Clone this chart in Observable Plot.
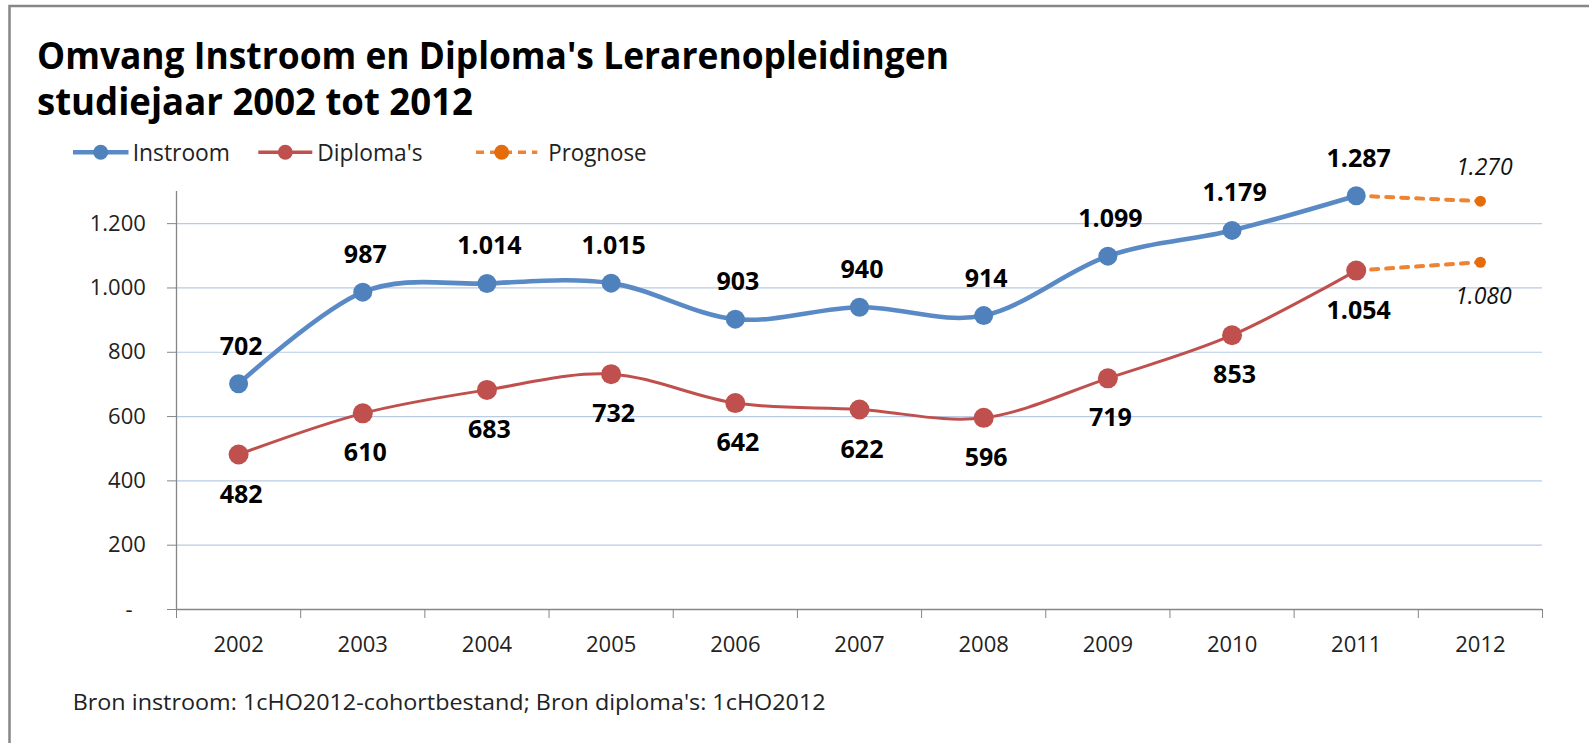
<!DOCTYPE html>
<html>
<head>
<meta charset="utf-8">
<script src="https://cdn.jsdelivr.net/npm/d3@7"></script>
<script src="https://cdn.jsdelivr.net/npm/@observablehq/plot@0.6"></script>
<style>
  html, body { margin: 0; padding: 0; background: #fff; }
  #chart { position: relative; width: 1589px; height: 743px; overflow: hidden; }
</style>
</head>
<body>
<div id="chart"></div>
<script>
// ---- data ----
const years = [2002, 2003, 2004, 2005, 2006, 2007, 2008, 2009, 2010, 2011];
const instroom = [702, 987, 1014, 1015, 903, 940, 914, 1099, 1179, 1287];
const diplomas = [482, 610, 683, 732, 642, 622, 596, 719, 853, 1054];
const prognoseYears = [2011, 2012];
const prognoseInstroom = [1287, 1270];
const prognoseDiplomas = [1054, 1080];
const xTickLabels = [2002, 2003, 2004, 2005, 2006, 2007, 2008, 2009, 2010, 2011, 2012];
const yTickValues = [200, 400, 600, 800, 1000, 1200];
const titleLines = ["Omvang Instroom en Diploma's Lerarenopleidingen", "studiejaar 2002 tot 2012"];
const legendLabels = ["Instroom", "Diploma's", "Prognose"];
const captionText = "Bron instroom: 1cHO2012-cohortbestand; Bron diploma's: 1cHO2012";

// ---- styling ----
const BLUE = "#4F81BD", BLUE_LINE = "#5A8AC6", RED = "#C0504D";
const ORANGE_LINE = "#EE8433", ORANGE = "#E46C0A";
const GRAY = "#868686", GRID = "#B7CCE4", TEXT = "#222";

const nl = v => d3.format(",")(v).replace(/,/g, ".");

const inData = years.map((year, i) => ({year, value: instroom[i]}));
const dipData = years.map((year, i) => ({year, value: diplomas[i]}));
const progIn = prognoseYears.map((year, i) => ({year, value: prognoseInstroom[i]}));
const progDip = prognoseYears.map((year, i) => ({year, value: prognoseDiplomas[i]}));
const bandEdges = xTickLabels.map(y => y - 0.5).concat([xTickLabels[xTickLabels.length - 1] + 0.5]);

const svg = Plot.plot({
  width: 1589,
  height: 743,
  marginLeft: 176,
  marginRight: 47,
  marginTop: 191,
  marginBottom: 134,
  x: {type: "linear", domain: [bandEdges[0], bandEdges[bandEdges.length - 1]]},
  y: {type: "linear", domain: [0, 1300]},
  style: {fontFamily: "'Open Sans', sans-serif", background: "#fff", overflow: "visible"},
  marks: [
    Plot.ruleY(yTickValues, {y: d => d, stroke: GRID, strokeWidth: 1.2}),
    Plot.ruleX([bandEdges[0]], {x: d => d, stroke: GRAY, strokeWidth: 1.3}),
    Plot.ruleY([0], {y: d => d, stroke: GRAY, strokeWidth: 1.3}),
    Plot.axisY({ticks: yTickValues, anchor: "left", tickSize: 9, tickPadding: 21.7, fontSize: 22,
      stroke: GRAY, fill: TEXT, tickFormat: nl, label: null}),
    Plot.axisY({ticks: [0], anchor: "left", tickSize: 9, tickPadding: 35, fontSize: 22,
      stroke: GRAY, fill: TEXT, tickFormat: () => "-", label: null}),
    Plot.axisX({ticks: bandEdges, anchor: "bottom", tickSize: 9, stroke: GRAY, tickFormat: () => "", label: null}),
    Plot.axisX({ticks: xTickLabels, anchor: "bottom", tickSize: 0, tickPadding: 27, fontSize: 22,
      fill: TEXT, tickFormat: d => String(d), label: null}),
    // prognose
    Plot.line(progIn, {x: "year", y: "value", stroke: ORANGE_LINE, strokeWidth: 4, strokeDasharray: "7,8", curve: "cardinal"}),
    Plot.line(progDip, {x: "year", y: "value", stroke: ORANGE_LINE, strokeWidth: 4, strokeDasharray: "7,8", curve: "cardinal"}),
    Plot.dot(progIn.slice(1), {x: "year", y: "value", r: 5.5, fill: ORANGE}),
    Plot.dot(progDip.slice(1), {x: "year", y: "value", r: 5.5, fill: ORANGE}),
    // main series
    Plot.line(dipData, {x: "year", y: "value", stroke: RED, strokeWidth: 3, curve: "cardinal"}),
    Plot.line(inData, {x: "year", y: "value", stroke: BLUE_LINE, strokeWidth: 4.6, curve: "cardinal"}),
    Plot.dot(dipData, {x: "year", y: "value", r: 10, fill: RED}),
    Plot.dot(inData, {x: "year", y: "value", r: 9.5, fill: BLUE}),
    // labels
    Plot.text(inData, {x: "year", y: "value", text: d => nl(d.value), dy: -29, dx: 2.5, lineAnchor: "bottom",
      fontSize: 25, fontWeight: "bold", fill: "#000"}),
    Plot.text(dipData, {x: "year", y: "value", text: d => nl(d.value), dy: 48, dx: 2.5, lineAnchor: "bottom",
      fontSize: 25, fontWeight: "bold", fill: "#000"}),
    Plot.text(progIn.slice(1), {x: "year", y: "value", text: d => nl(d.value), dy: -25.7, dx: 4, lineAnchor: "bottom",
      fontSize: 23, fontStyle: "italic", fill: "#111"}),
    Plot.text(progDip.slice(1), {x: "year", y: "value", text: d => nl(d.value), dy: 42, dx: 3, lineAnchor: "bottom",
      fontSize: 23, fontStyle: "italic", fill: "#111"})
  ]
});

document.getElementById("chart").append(svg);

// ---- overlay: frame, title, legend, caption ----
const g = d3.select(svg).append("g").attr("class", "overlay").attr("text-anchor", "start");

g.append("path").attr("d", "M9.5,743 V6 H1589").attr("fill", "none")
  .attr("stroke", "#878787").attr("stroke-width", 2.5);

const titleSpecs = [{x: 37, y: 69, w: 912}, {x: 37, y: 114.5, w: 436}];
titleLines.forEach((t, i) => {
  g.append("text").attr("x", titleSpecs[i].x).attr("y", titleSpecs[i].y)
    .attr("font-size", 37).attr("font-weight", "bold").attr("fill", "#000")
    .attr("textLength", titleSpecs[i].w).attr("lengthAdjust", "spacingAndGlyphs")
    .text(t);
});

const legendSpecs = [
  {x1: 73, x2: 128.5, cx: 100.7, color: BLUE_LINE, dot: BLUE, w: 4.5, dash: null, tx: 132.7, tw: 97.3},
  {x1: 258.3, x2: 312.3, cx: 285.3, color: RED, dot: RED, w: 3.5, dash: null, tx: 317.3, tw: 105.3},
  {x1: 476, x2: 537.3, cx: 501.7, color: ORANGE_LINE, dot: ORANGE, w: 3.5, dash: "8,6", tx: 548.3, tw: 98.3}
];
legendSpecs.forEach((s, i) => {
  const ly = 152.3;
  const ln = g.append("line").attr("x1", s.x1).attr("x2", s.x2).attr("y1", ly).attr("y2", ly)
    .attr("stroke", s.color).attr("stroke-width", s.w);
  if (s.dash) ln.attr("stroke-dasharray", s.dash);
  g.append("circle").attr("cx", s.cx).attr("cy", ly).attr("r", 7.5).attr("fill", s.dot);
  g.append("text").attr("x", s.tx).attr("y", 160.5).attr("font-size", 23).attr("fill", TEXT)
    .attr("textLength", s.tw).attr("lengthAdjust", "spacingAndGlyphs").text(legendLabels[i]);
});

g.append("text").attr("x", 72.7).attr("y", 710).attr("font-size", 22).attr("fill", TEXT)
  .attr("textLength", 753).attr("lengthAdjust", "spacingAndGlyphs").text(captionText);
</script>
</body>
</html>
